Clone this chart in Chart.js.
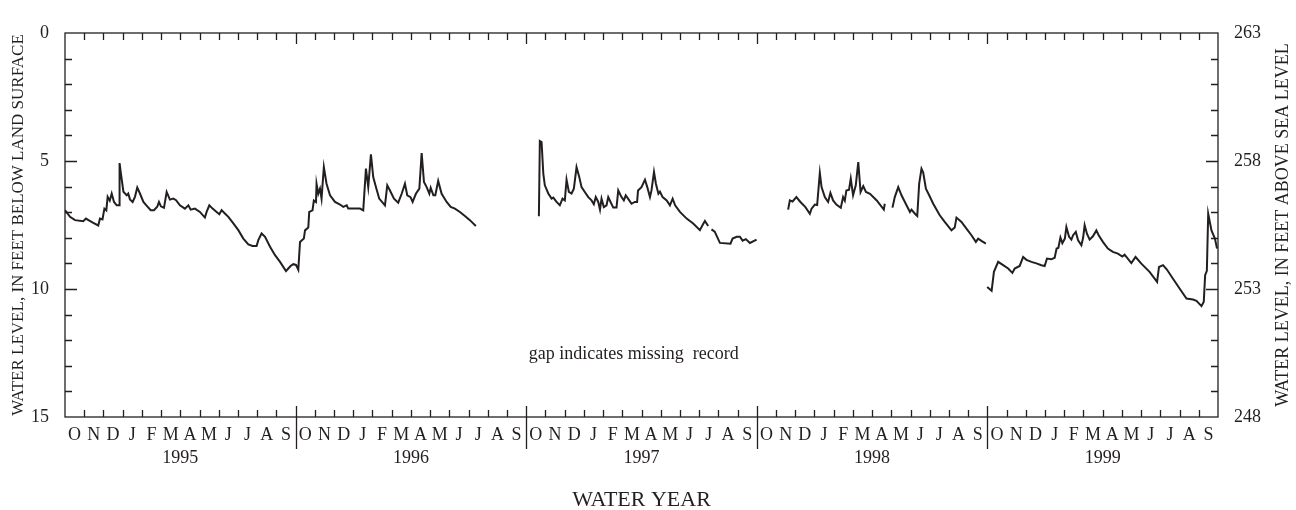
<!DOCTYPE html>
<html>
<head>
<meta charset="utf-8">
<script src="https://cdn.jsdelivr.net/npm/chart.js@4.4.1/dist/chart.umd.min.js"></script>
<style>
  html, body { margin: 0; padding: 0; background: #fff; }
  #wrap { width: 1296px; height: 510px; }
</style>
</head>
<body>
<div id="wrap"><canvas id="well"></canvas></div>
<script>
const monthLetters = ['O', 'N', 'D', 'J', 'F', 'M', 'A', 'M', 'J', 'J', 'A', 'S'];
const waterYears = ['1995', '1996', '1997', '1998', '1999'];
const depthTicks = [0, 5, 10, 15];
const altitudeTicks = [248, 253, 258, 263];

// time in months since 1 Oct 1994, depth in feet below land surface (null = missing record)
const t = [
  0, 0.26, 0.52, 0.95, 1.09, 1.2, 1.47, 1.73, 1.82, 1.95, 2.05, 2.15, 2.22, 2.33, 2.43, 2.55, 2.69, 2.83, 2.84, 2.91,
  3.04, 3.21, 3.29, 3.38, 3.52, 3.64, 3.76, 3.9, 4.08, 4.28, 4.46, 4.63, 4.8, 4.89, 4.99, 5.15, 5.29, 5.46, 5.64, 5.78,
  5.98, 6.24, 6.42, 6.54, 6.76, 7.02, 7.28, 7.37, 7.51, 7.68, 7.89, 8.03, 8.15, 8.32, 8.5, 8.76, 9.02, 9.28, 9.54, 9.76,
  9.97, 10.06, 10.23, 10.41, 10.67, 10.93, 11.19, 11.5, 11.62, 11.74, 11.88, 12.02, 12.14, 12.23, 12.43, 12.49, 12.66, 12.71, 12.88, 12.95,
  13.06, 13.09, 13.18, 13.27, 13.35, 13.47, 13.61, 13.79, 14.05, 14.31, 14.48, 14.66, 14.74, 15.35, 15.52, 15.66, 15.78, 15.92, 16.04, 16.18,
  16.35, 16.65, 16.77, 16.91, 17.12, 17.34, 17.52, 17.69, 17.81, 17.98, 18.09, 18.26, 18.44, 18.56, 18.68, 18.82, 18.96, 19.03, 19.17, 19.27,
  19.42, 19.6, 19.86, 20.07, 20.29, 20.55, 20.81, 21.07, 21.38,
  23,
  24.66, 24.71, 24.8, 24.89, 24.97, 25.15, 25.32, 25.41, 25.58, 25.75, 25.89, 26.01, 26.1, 26.22, 26.36, 26.48, 26.62, 26.76, 26.88, 27.05,
  27.23, 27.4, 27.52, 27.62, 27.75, 27.84, 27.92, 28.04, 28.18, 28.27, 28.39, 28.53, 28.7, 28.79, 28.96, 29.08, 29.18, 29.3, 29.48, 29.65,
  29.77, 29.82, 30.0, 30.18, 30.3, 30.44, 30.52, 30.65, 30.75, 30.88, 30.96, 31.1, 31.31, 31.48, 31.62, 31.75, 32.0, 32.35, 32.69, 33.04,
  33.18, 33.3, 33.47, 33.55, 33.64, 33.81, 34.08, 34.63, 34.74, 34.95, 35.12, 35.26, 35.43, 35.64, 35.99,
  36.8,
  37.63, 37.72, 37.86, 38.06, 38.27, 38.53, 38.76, 38.85, 39.02, 39.14, 39.28, 39.37, 39.54, 39.71, 39.83, 39.97, 40.14, 40.37, 40.49, 40.58,
  40.66, 40.8, 40.89, 41.01, 41.15, 41.28, 41.4, 41.54, 41.68, 41.89, 42.24, 42.61, 42.66,
  42.85,
  43.06, 43.18, 43.36, 43.53, 43.79, 43.97, 44.05, 44.23, 44.35, 44.45, 44.57, 44.66, 44.8, 44.97, 45.18, 45.52, 45.78, 46.13, 46.3, 46.39,
  46.65, 46.91, 47.17, 47.4, 47.52, 47.69, 47.92,
  47.95,
  47.99, 48.22, 48.34, 48.56, 48.82, 49.08, 49.3, 49.42, 49.68, 49.86, 50.03, 50.29, 50.55, 50.81, 50.98, 51.1, 51.33, 51.5, 51.6, 51.69,
  51.8, 51.9, 52.03, 52.11, 52.25, 52.37, 52.46, 52.6, 52.72, 52.89, 52.98, 53.06, 53.18, 53.32, 53.49, 53.67, 53.79, 54.01, 54.27, 54.53,
  54.79, 55.02, 55.14, 55.49, 55.71, 56.01, 56.44, 56.83, 56.93, 57.14, 57.34, 57.65, 58.0, 58.36, 58.7, 58.88, 59.14, 59.26, 59.33, 59.42,
  59.49, 59.66, 59.84, 59.95
];
const depth = [
  6.92, 7.18, 7.31, 7.35, 7.25, 7.3, 7.42, 7.52, 7.25, 7.28, 6.86, 6.93, 6.4, 6.55, 6.27, 6.6, 6.73, 6.73, 5.08, 5.49,
  6.2, 6.34, 6.27, 6.5, 6.6, 6.4, 6.04, 6.27, 6.6, 6.77, 6.92, 6.92, 6.79, 6.6, 6.77, 6.83, 6.21, 6.51, 6.47, 6.53,
  6.73, 6.86, 6.73, 6.9, 6.86, 6.99, 7.21, 6.99, 6.73, 6.86, 6.99, 7.08, 6.92, 7.05, 7.18, 7.44, 7.7, 8.03, 8.26, 8.32,
  8.32, 8.09, 7.83, 7.96, 8.35, 8.68, 8.94, 9.3, 9.2, 9.1, 9.03, 9.06, 9.25, 8.16, 8.03, 7.71, 7.6, 6.99, 6.93, 6.54,
  6.6, 5.89, 6.28, 6.08, 6.47, 5.24, 5.89, 6.34, 6.6, 6.7, 6.79, 6.73, 6.86, 6.86, 6.93, 5.3, 6.02, 4.74, 5.63, 6.02,
  6.47, 6.73, 5.95, 6.15, 6.47, 6.63, 6.28, 5.89, 6.34, 6.41, 6.6, 6.28, 6.08, 4.69, 5.82, 6.02, 6.28, 6.05, 6.34, 6.34,
  5.78, 6.28, 6.6, 6.79, 6.86, 6.99, 7.15, 7.31, 7.54,
  null,
  7.16, 4.22, 4.26, 5.49, 5.95, 6.27, 6.47, 6.43, 6.6, 6.73, 6.47, 6.54, 5.73, 6.21, 6.27, 6.08, 5.24, 5.62, 6.02, 6.21,
  6.41, 6.54, 6.69, 6.41, 6.6, 6.9, 6.47, 6.8, 6.73, 6.41, 6.6, 6.82, 6.82, 6.15, 6.41, 6.54, 6.34, 6.47, 6.67, 6.6,
  6.6, 6.15, 6.02, 5.73, 6.02, 6.41, 6.15, 5.43, 5.89, 6.28, 6.2, 6.41, 6.54, 6.73, 6.47, 6.73, 6.99, 7.25, 7.44, 7.7,
  7.5, 7.34, 7.54, null, 7.67, 7.76, 8.2, 8.23, 8.03, 7.96, 7.96, 8.11, 8.05, 8.2, 8.07,
  null,
  6.9, 6.54, 6.58, 6.41, 6.6, 6.8, 7.06, 6.86, 6.7, 6.72, 5.47, 6.02, 6.41, 6.6, 6.25, 6.54, 6.7, 6.83, 6.41, 6.55,
  6.15, 6.12, 5.69, 6.34, 5.95, 5.04, 6.21, 5.98, 6.21, 6.28, 6.54, 6.9, 6.67,
  null,
  6.82, 6.41, 6.02, 6.34, 6.73, 6.99, 6.9, 7.06, 7.15, 5.88, 5.3, 5.45, 6.08, 6.34, 6.67, 7.12, 7.38, 7.71, 7.6, 7.21,
  7.38, 7.64, 7.9, 8.16, 8.03, 8.12, 8.23,
  null,
  9.92, 10.07, 9.33, 8.94, 9.07, 9.2, 9.37, 9.2, 9.1, 8.75, 8.86, 8.94, 9.0, 9.07, 9.1, 8.81, 8.84, 8.78, 8.42, 8.4,
  7.99, 8.21, 8.03, 7.58, 7.96, 8.07, 7.9, 7.77, 8.1, 8.29, 8.0, 7.51, 7.84, 8.07, 7.94, 7.71, 7.9, 8.16, 8.42, 8.55,
  8.62, 8.73, 8.66, 8.99, 8.75, 9.01, 9.33, 9.72, 9.14, 9.07, 9.24, 9.59, 9.98, 10.37, 10.41, 10.46, 10.67, 10.5, 9.46, 9.29,
  7.06, 7.71, 8.03, 8.42
];

const ink = '#231f20';
const serif = '"Liberation Serif", "Times New Roman", serif';

const frame = {
  id: 'frame',
  afterDraw(chart) {
    const { ctx, chartArea: a, scales: { x, y, y2 } } = chart;
    ctx.save();
    ctx.strokeStyle = ink;
    ctx.lineWidth = 1.3;
    ctx.strokeRect(a.left, a.top, a.right - a.left, a.bottom - a.top);
    ctx.beginPath();
    for (let m = 1; m < 60; m++) {
      const px = Math.round(x.getPixelForValue(m)) + 0.5;
      if (m % 12 === 0) {
        ctx.moveTo(px, a.top); ctx.lineTo(px, a.top + 11);
        ctx.moveTo(px, a.bottom - 11); ctx.lineTo(px, a.bottom + 32);
      } else {
        ctx.moveTo(px, a.top); ctx.lineTo(px, a.top + 7);
        ctx.moveTo(px, a.bottom); ctx.lineTo(px, a.bottom - 7);
      }
    }
    for (let d = 1; d < 15; d++) {
      const len = d % 5 === 0 ? 12 : 7;
      const pl = Math.round(y.getPixelForValue(d)) + 0.5;
      ctx.moveTo(a.left, pl); ctx.lineTo(a.left + len, pl);
      const pr = Math.round(y2.getPixelForValue(263 - d)) + 0.5;
      ctx.moveTo(a.right, pr); ctx.lineTo(a.right - len, pr);
    }
    ctx.stroke();

    ctx.fillStyle = ink;
    ctx.textAlign = 'center';
    ctx.textBaseline = 'middle';
    ctx.font = '18px ' + serif;
    waterYears.forEach((yr, i) => {
      ctx.fillText(yr, x.getPixelForValue(i * 12 + 6), a.bottom + 41);
    });

    ctx.font = '18px ' + serif;
    ctx.fillText('gap indicates missing  record', x.getPixelForValue(29.6), y.getPixelForValue(12.55));

    ctx.font = '18px ' + serif;
    ctx.translate(1283, (a.top + a.bottom) / 2);
    ctx.rotate(-Math.PI / 2);
    ctx.fillText('WATER LEVEL, IN FEET ABOVE SEA LEVEL', 0, 0);
    ctx.restore();
  }
};

new Chart(document.getElementById('well'), {
  type: 'line',
  data: {
    datasets: [{
      label: 'Water level',
      data: t.map((m, i) => ({ x: m, y: depth[i] })),
      yAxisID: 'y',
      borderColor: ink,
      borderWidth: 2,
      pointRadius: 0,
      tension: 0,
      spanGaps: false
    }]
  },
  options: {
    responsive: true,
    maintainAspectRatio: false,
    animation: false,
    events: [],
    layout: { padding: { top: 33, left: 0, right: 0, bottom: 0 } },
    plugins: { legend: { display: false }, tooltip: { enabled: false } },
    scales: {
      x: {
        type: 'linear',
        min: 0,
        max: 60,
        grid: { display: false },
        border: { display: false },
        afterBuildTicks: s => { s.ticks = Array.from({ length: 60 }, (_, i) => ({ value: i + 0.5 })); },
        afterFit: s => { s.height = 93; },
        ticks: {
          autoSkip: false,
          maxRotation: 0,
          minRotation: 0,
          padding: -1,
          color: ink,
          font: { family: serif, size: 18 },
          callback: (v, i) => monthLetters[i % 12]
        },
        title: {
          display: true,
          text: 'WATER YEAR',
          color: ink,
          font: { family: serif, size: 22 },
          padding: { top: 0, bottom: -3 }
        }
      },
      y: {
        position: 'left',
        reverse: true,
        min: 0,
        max: 15,
        grid: { display: false },
        border: { display: false },
        afterBuildTicks: s => { s.ticks = depthTicks.map(v => ({ value: v })); },
        afterFit: s => { s.width = 65; },
        ticks: { padding: 8, color: ink, font: { family: serif, size: 18 } },
        title: {
          display: true,
          text: 'WATER LEVEL, IN FEET BELOW LAND SURFACE',
          color: ink,
          font: { family: serif, size: 17 },
          padding: { top: 8, bottom: 0 }
        }
      },
      y2: {
        position: 'right',
        min: 248,
        max: 263,
        grid: { display: false },
        border: { display: false },
        afterBuildTicks: s => { s.ticks = altitudeTicks.map(v => ({ value: v })); },
        afterFit: s => { s.width = 78; },
        ticks: { padding: 8, color: ink, font: { family: serif, size: 18 } }
      }
    }
  },
  plugins: [frame]
});
</script>
</body>
</html>
